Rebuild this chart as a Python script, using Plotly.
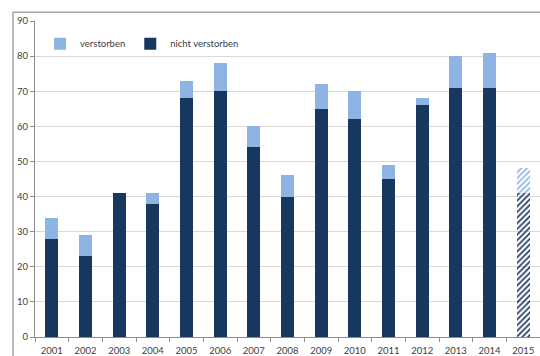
import plotly.graph_objects as go

years = ["2001", "2002", "2003", "2004", "2005", "2006", "2007", "2008",
         "2009", "2010", "2011", "2012", "2013", "2014", "2015"]
nicht_verstorben = [28, 23, 41, 38, 68, 70, 54, 40, 65, 62, 45, 66, 71, 71, 41]
verstorben = [6, 6, 0, 3, 5, 8, 6, 6, 7, 8, 4, 2, 9, 10, 7]
hatched = ["", "", "", "", "", "", "", "", "", "", "", "", "", "", "/"]

DARK = "#17375E"
LIGHT = "#8DB4E2"
FONT = "Lato"

fig = go.Figure()
fig.add_trace(go.Bar(
    x=years, y=nicht_verstorben, name="nicht verstorben",
    marker=dict(color=DARK, line=dict(width=0),
                pattern=dict(shape=hatched, fillmode="replace", size=4, solidity=0.4)),
    legendrank=2, width=0.38,
))
fig.add_trace(go.Bar(
    x=years, y=verstorben, name="verstorben",
    marker=dict(color=LIGHT, line=dict(width=0),
                pattern=dict(shape=hatched, fillmode="replace", size=4, solidity=0.4)),
    legendrank=1, width=0.38,
))

fig.update_layout(
    barmode="stack",
    width=540, height=356,
    margin=dict(l=35, r=0, t=21, b=17),
    paper_bgcolor="white", plot_bgcolor="white",
    font=dict(family=FONT, size=9.5, color="#404040"),
    showlegend=True,
    legend=dict(orientation="h", x=0.01, y=0.928, xanchor="left", yanchor="middle",
                bgcolor="rgba(0,0,0,0)", font=dict(size=9.5, color="#404040"),
                itemwidth=30, traceorder="normal"),
    xaxis=dict(type="category", showgrid=False, showline=True, linecolor="#8c8c8c",
               linewidth=1, ticks="outside", tickson="boundaries", ticklen=4,
               tickcolor="#8c8c8c", tickfont=dict(size=9.5, color="#404040"),
               ticklabelstandoff=5, fixedrange=True),
    yaxis=dict(range=[0, 90], dtick=10, showgrid=True, gridcolor="#d9d9d9", gridwidth=1,
               showline=True, linecolor="#8c8c8c", linewidth=1, ticks="outside",
               ticklen=4, tickcolor="#8c8c8c", tickfont=dict(size=9.5, color="#404040"),
               zeroline=False),
    shapes=[dict(type="rect", xref="paper", yref="paper", x0=-0.0436, x1=1.02,
                 y0=-0.2, y1=1.028, line=dict(color="#a6a6a6", width=1.5),
                 fillcolor="rgba(0,0,0,0)", layer="below")],
)

fig.write_html("out.html")
